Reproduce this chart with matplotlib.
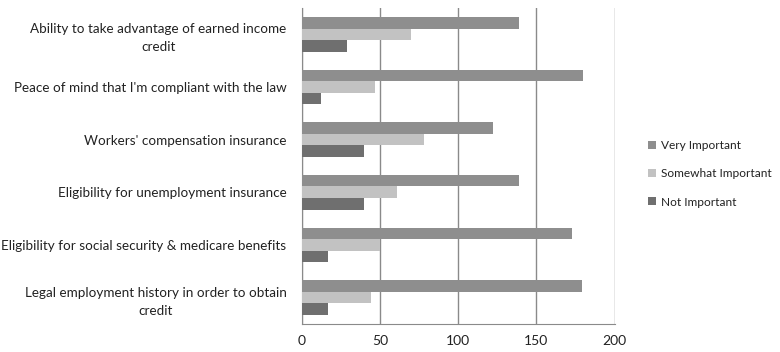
import matplotlib.pyplot as plt
import numpy as np

plt.rcParams['font.family'] = ['Lato', 'DejaVu Sans']

categories = ["Ability to take advantage of earned income\ncredit",
              "Peace of mind that I'm compliant with the law",
              "Workers' compensation insurance",
              "Eligibility for unemployment insurance",
              "Eligibility for social security & medicare benefits",
              "Legal employment history in order to obtain\ncredit"]
very = [139, 180, 122, 139, 173, 179]
somewhat = [70, 47, 78, 61, 50, 44]
not_imp = [29, 12, 40, 40, 17, 17]

series = ["Very Important", "Somewhat Important", "Not Important"]
colors = ["#8e8e8e", "#c2c2c2", "#6f6f6f"]

fig = plt.figure(figsize=(7.8, 3.52), dpi=100)
ax = fig.add_axes([0.387, 0.08, 0.401, 0.897])

y = np.arange(len(categories))
h = 0.22
for k, (vals, lab, col) in enumerate(zip([very, somewhat, not_imp], series, colors)):
    ax.barh(y + (k - 1) * h, vals, height=h, color=col, label=lab, zorder=3)

ax.set_ylim(len(categories) - 0.5, -0.5)
ax.set_xlim(0, 200)
ax.set_xticks([0, 50, 100, 150, 200])
ax.set_yticks(y)
ax.set_yticklabels(categories, fontsize=9.7, ha='right', multialignment='center',
                   color='#222222', linespacing=1.6)
ax.tick_params(axis='y', length=0, pad=11)
ax.tick_params(axis='x', length=0, labelsize=10, pad=8, labelcolor='#222222')
ax.grid(axis='x', color='#8a8a8a', linewidth=1, zorder=0)
for s in ['top', 'right']:
    ax.spines[s].set_visible(False)
ax.spines['left'].set_color('#8a8a8a')
ax.spines['bottom'].set_color('#8a8a8a')

leg = ax.legend(loc='center left', bbox_to_anchor=(1.085, 0.475), frameon=False, fontsize=8.6,
                handlelength=0.65, handleheight=0.65, handletextpad=0.4, labelspacing=1.45,
                borderaxespad=0.2)
for t in leg.get_texts():
    t.set_color('#222222')

fig.savefig('out.png', dpi=100)
